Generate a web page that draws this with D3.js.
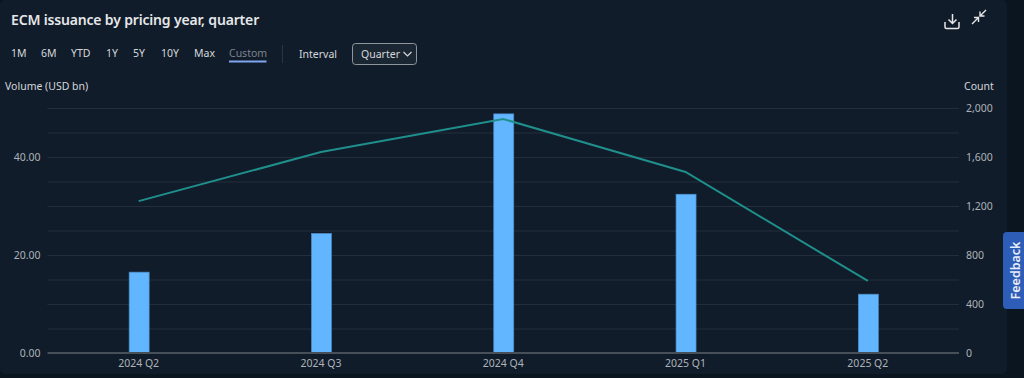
<!DOCTYPE html>
<html>
<head>
<meta charset="utf-8">
<script src="https://cdn.jsdelivr.net/npm/d3@7"></script>
<style>
html, body { margin: 0; padding: 0; background: #0a1520; overflow: hidden; }
text { font-family: "Noto Sans", sans-serif; }
</style>
</head>
<body>
<div id="chart"></div>
<script>
const quarters = ["2024 Q2", "2024 Q3", "2024 Q4", "2025 Q1", "2025 Q2"];
const volume = [16.5, 24.4, 48.8, 32.4, 12];
const count = [1240, 1640, 1910, 1478, 588];
const volumeTicks = [0, 20, 40];
const countTicks = [0, 400, 800, 1200, 1600, 2000];
const gridTicks = [5, 10, 15, 20, 25, 30, 35, 40, 45, 50];
const ranges = ["1M", "6M", "YTD", "1Y", "5Y", "10Y", "Max", "Custom"];
const rangeX = [11, 41, 71, 106, 133, 161, 194, 229];

const width = 1024, height = 378;
const margin = { top: 108, right: 65, bottom: 25, left: 47.5 };

const svg = d3.select("#chart").append("svg")
	.attr("width", width)
	.attr("height", height)
	.style("display", "block");

// panel
svg.append("rect").attr("width", 1007).attr("height", 374).attr("rx", 5).attr("fill", "#101c2a");

const x = d3.scaleBand()
	.domain(quarters)
	.range([margin.left, width - margin.right]);

const yLeft = d3.scaleLinear()
	.domain([0, 50])
	.range([height - margin.bottom, margin.top]);

const yRight = d3.scaleLinear()
	.domain([0, 2000])
	.range([height - margin.bottom, margin.top]);

// grid
svg.append("g").selectAll("line")
	.data(gridTicks)
	.join("line")
	.attr("x1", margin.left)
	.attr("x2", width - margin.right)
	.attr("y1", d => yLeft(d) + 0.5)
	.attr("y2", d => yLeft(d) + 0.5)
	.attr("stroke", "#232e3c");

// bars
svg.append("g").selectAll("rect")
	.data(quarters)
	.join("rect")
	.attr("x", d => x(d) + x.bandwidth() / 2 - 9.5)
	.attr("y", (d, i) => yLeft(volume[i]))
	.attr("width", 20)
	.attr("height", (d, i) => yLeft(0) - yLeft(volume[i]))
	.attr("fill", "#62b5ff")
	.attr("stroke", "#4a8cc8")
	.attr("stroke-width", 0.7);

// baseline
svg.append("line")
	.attr("x1", margin.left)
	.attr("x2", width - margin.right)
	.attr("y1", yLeft(0))
	.attr("y2", yLeft(0))
	.attr("stroke", "#474f59")
	.attr("stroke-width", 2);

// line
const line = d3.line()
	.x((d, i) => x(quarters[i]) + x.bandwidth() / 2)
	.y(d => yRight(d));

svg.append("path")
	.datum(count)
	.attr("d", line)
	.attr("fill", "none")
	.attr("stroke", "#1f8f8c")
	.attr("stroke-width", 2);

// axes
const axisLeft = d3.axisLeft(yLeft).tickValues(volumeTicks).tickSize(0).tickPadding(7).tickFormat(d3.format(".2f"));
const axisRight = d3.axisRight(yRight).tickValues(countTicks).tickSize(0).tickPadding(7).tickFormat(d3.format(","));
const axisBottom = d3.axisBottom(x).tickSize(0).tickPadding(7);

[
	svg.append("g").attr("transform", "translate(" + margin.left + ",0)").call(axisLeft),
	svg.append("g").attr("transform", "translate(" + (width - margin.right) + ",0)").call(axisRight),
	svg.append("g").attr("transform", "translate(0," + (height - margin.bottom) + ")").call(axisBottom)
].forEach(function(g) {
	g.select(".domain").remove();
	g.selectAll("text").attr("fill", "#aeb2b8").style("font-size", "10.5px");
});

// axis titles
svg.append("text").attr("x", 5).attr("y", 90).attr("fill", "#d5d7da").style("font-size", "10.5px").text("Volume (USD bn)");
svg.append("text").attr("x", 964).attr("y", 90).attr("fill", "#d5d7da").style("font-size", "10.5px").text("Count");

// title
svg.append("text").attr("x", 11).attr("y", 25).attr("fill", "#e6e7e9")
	.style("font-size", "14px").style("font-weight", 600).style("letter-spacing", "-0.17px")
	.text("ECM issuance by pricing year, quarter");

// range buttons
svg.append("g").selectAll("text")
	.data(ranges)
	.join("text")
	.attr("x", (d, i) => rangeX[i])
	.attr("y", 57)
	.attr("fill", d => d == "Custom" ? "#7d838c" : "#d5d7da")
	.style("font-size", "10.5px")
	.text(d => d);

svg.append("rect").attr("x", 229).attr("y", 60.5).attr("width", 37.5).attr("height", 2).attr("fill", "#7fa6ee");
svg.append("line").attr("x1", 282.5).attr("x2", 282.5).attr("y1", 45).attr("y2", 63).attr("stroke", "#2a3441");
svg.append("text").attr("x", 299).attr("y", 58).attr("fill", "#d5d7da").style("font-size", "10.5px").text("Interval");

// dropdown
svg.append("rect").attr("x", 352.5).attr("y", 43.5).attr("width", 64).attr("height", 21).attr("rx", 3)
	.attr("fill", "#1b2633").attr("stroke", "#8f959c");
svg.append("text").attr("x", 361).attr("y", 58).attr("fill", "#d5d7da").style("font-size", "10.5px").text("Quarter");
svg.append("path").attr("d", "M403.500 52l4 4 4-4").attr("fill", "none").attr("stroke", "#d5d7da").attr("stroke-width", 1.2);

// download icon
svg.append("path")
	.attr("d", "M945 22v5q0 1.5 1.5 1.5h11q1.500 0 1.500-1.500v-5M952.500 14v9M948.500 19.500l4 4 4-4")
	.attr("fill", "none").attr("stroke", "#e6e7e9").attr("stroke-width", 1.5);

// collapse icon
svg.append("path")
	.attr("d", "M972 24l6-6M974 17.500h4.500v4.500M986 10l-6 6M980 11.500v4.500h4.500")
	.attr("fill", "none").attr("stroke", "#e6e7e9").attr("stroke-width", 1.4);

// feedback tab
svg.append("rect").attr("x", 1003).attr("y", 232).attr("width", 30).attr("height", 77).attr("rx", 4).attr("fill", "#2e5db8");
svg.append("text")
	.attr("transform", "translate(1019.500,270.500) rotate(-90)")
	.attr("text-anchor", "middle")
	.attr("fill", "#e6ecf7")
	.style("font-size", "12.5px")
	.style("font-weight", 600)
	.text("Feedback");
</script>
</body>
</html>
